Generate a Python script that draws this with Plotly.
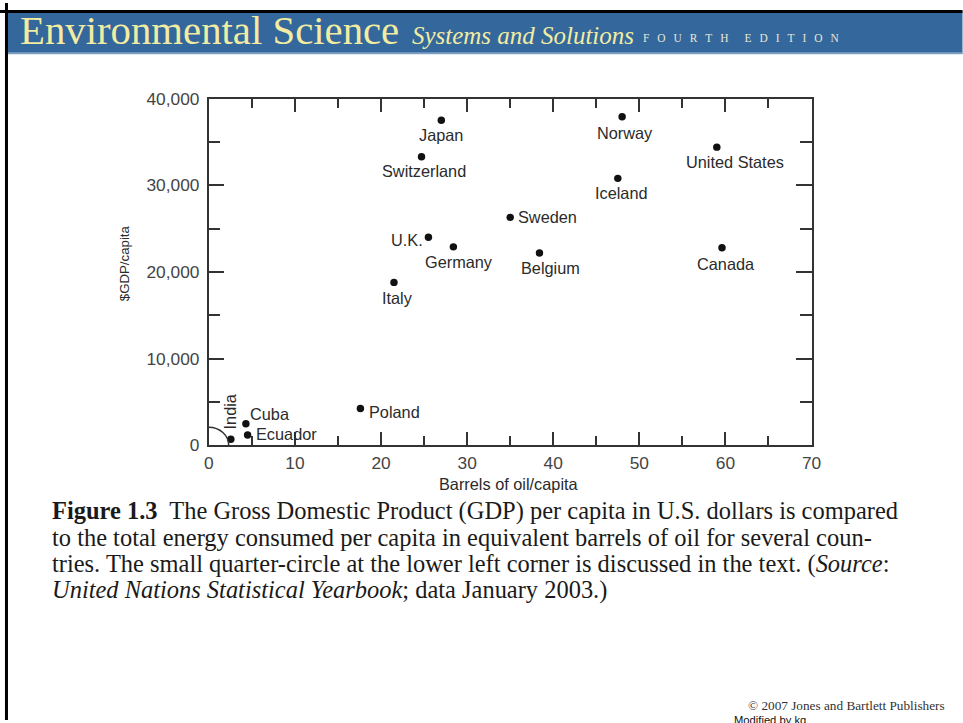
import plotly.graph_objects as go

# ---------------- data ----------------
countries = ["Japan", "Switzerland", "U.K.", "Germany", "Italy", "Sweden", "Belgium",
             "Norway", "Iceland", "United States", "Canada", "Poland", "Cuba", "Ecuador", "India"]
barrels = [27.0, 24.7, 25.5, 28.4, 21.5, 35.0, 38.4, 48.0, 47.5, 59.0, 59.6, 17.6, 4.3, 4.5, 2.55]
gdp = [37500, 33300, 24000, 22900, 18800, 26300, 22200, 37900, 30800, 34400, 22800, 4250, 2500, 1200, 720]

x_ticks = [0, 10, 20, 30, 40, 50, 60, 70]
y_ticks = [0, 10000, 20000, 30000, 40000]
y_tick_text = ["0", "10,000", "20,000", "30,000", "40,000"]

# ---------------- layout helpers ----------------
W, H = 963, 723
# observed mapping page -> photo: photo = S * page + B
SX, BX = 0.985, 6.0
SY, BY = 0.977, 8.0
K = 1 / ((SX + SY) / 2)   # size compensation


def px(xr):
    return ((xr - BX) / SX) / W


def py(yr):
    return 1 - ((yr - BY) / SY) / H


def fs(v):
    return round(v * K, 2)


# label placement: (xanchor, xshift, yshift, angle)
label_style = {
    "Japan": ("center", 0, -14, 0),
    "Switzerland": ("center", 2, -14, 0),
    "U.K.": ("right", -3, -3, 0),
    "Germany": ("center", 6, -15, 0),
    "Italy": ("center", 3, -15, 0),
    "Sweden": ("left", 6, 0, 0),
    "Belgium": ("center", 11, -15, 0),
    "Norway": ("center", 3, -16, 0),
    "Iceland": ("center", 4, -14, 0),
    "United States": ("center", 18, -15, 0),
    "Canada": ("center", 4, -16, 0),
    "Poland": ("left", 6, -3, 0),
    "Cuba": ("left", 2, 10, 0),
    "Ecuador": ("left", 6, 1, 0),
    "India": ("center", -1, 27, -90),
}
quarter_circle = (2.3, 2100)

SANS = "Liberation Sans, Arial, sans-serif"
SERIF = "Liberation Serif, Times New Roman, serif"
INK = "#2b2b2b"
AX = "#333333"

fig = go.Figure()
fig.add_trace(go.Scatter(
    x=barrels, y=gdp, mode="markers",
    marker=dict(size=fs(7.3), color="#111111"),
    hoverinfo="skip", showlegend=False, cliponaxis=False,
))

annotations = []
for c, xv, yv in zip(countries, barrels, gdp):
    xa, dx, dy, ang = label_style[c]
    annotations.append(dict(
        x=xv, y=yv, xref="x", yref="y", text=c, showarrow=False,
        xanchor=xa, yanchor="middle", xshift=dx * K, yshift=dy * K, textangle=ang,
        font=dict(family=SANS, size=fs(16), color=INK),
    ))

# axis titles
annotations.append(dict(x=px(510), y=py(484), xref="paper", yref="paper",
                        text="Barrels of oil/capita", showarrow=False,
                        xanchor="center", yanchor="middle",
                        font=dict(family=SANS, size=fs(16), color=INK)))
annotations.append(dict(x=px(125.5), y=py(262), xref="paper", yref="paper",
                        text="$GDP/capita", showarrow=False, textangle=-90,
                        xanchor="center", yanchor="middle",
                        font=dict(family=SANS, size=fs(13), color=INK)))

# header
annotations.append(dict(x=px(19), y=py(29), xref="paper", yref="paper",
                        text="Environmental Science", showarrow=False,
                        xanchor="left", yanchor="middle",
                        font=dict(family=SERIF, size=fs(40), color="#f1eca2")))
annotations.append(dict(x=px(411), y=py(33.5), xref="paper", yref="paper",
                        text="<i>Systems and Solutions</i>", showarrow=False,
                        xanchor="left", yanchor="middle",
                        font=dict(family=SERIF, size=fs(24.5), color="#f1eca2")))
gap = "\u2002\u2009"
annotations.append(dict(x=px(642), y=py(36), xref="paper", yref="paper",
                        text=gap.join("FOURTH") + gap + gap + gap.join("EDITION"),
                        showarrow=False, xanchor="left", yanchor="middle",
                        font=dict(family=SERIF, size=fs(11.2), color="#e6e6d6")))

# caption
caption_lines = [
    "<b>Figure 1.3</b>\u00a0 The Gross Domestic Product (GDP) per capita in U.S. dollars is compared",
    "to the total energy consumed per capita in equivalent barrels of oil for several coun-",
    "tries. The small quarter-circle at the lower left corner is discussed in the text. (<i>Source</i>:",
    "<i>United Nations Statistical Yearbook</i>; data January 2003.)",
]
caption_y = [511, 538, 564.5, 591]
for t, yy in zip(caption_lines, caption_y):
    annotations.append(dict(x=px(51), y=py(yy), xref="paper", yref="paper",
                            text=t, showarrow=False, xanchor="left", yanchor="middle",
                            font=dict(family=SERIF, size=fs(24), color="#1a1a1a")))

# footer
annotations.append(dict(x=px(949), y=py(707), xref="paper", yref="paper",
                        text="\u00a9 2007 Jones and Bartlett Publishers", showarrow=False,
                        xanchor="right", yanchor="middle",
                        font=dict(family=SERIF, size=fs(13), color="#333333")))
annotations.append(dict(x=px(733), y=py(713), xref="paper", yref="paper",
                        text="Modified by kg", showarrow=False,
                        xanchor="left", yanchor="top",
                        font=dict(family=SANS, size=fs(11), color="#111111")))

shapes = [
    # header band
    dict(type="rect", xref="paper", yref="paper", x0=px(8), x1=1.01, y0=py(9), y1=py(52),
         fillcolor="#34679b", line=dict(width=0), layer="below"),
    dict(type="line", xref="paper", yref="paper", x0=px(8), x1=1.01, y0=py(51.5), y1=py(51.5),
         line=dict(color="#7f9fc2", width=2)),
    # black frame
    dict(type="line", xref="paper", yref="paper", x0=-0.01, x1=1.01, y0=1 - 1.5 / H, y1=1 - 1.5 / H,
         line=dict(color="#000000", width=3)),
    dict(type="line", xref="paper", yref="paper", x0=1.5 / W, x1=1.5 / W, y0=1.01, y1=-0.01,
         line=dict(color="#000000", width=3)),
    # quarter circle
    dict(type="circle", xref="x", yref="y",
         x0=-quarter_circle[0], x1=quarter_circle[0],
         y0=-quarter_circle[1], y1=quarter_circle[1],
         line=dict(color=AX, width=1.5)),
]

fig.update_layout(
    width=W, height=H,
    margin=dict(l=0, r=0, t=0, b=0),
    paper_bgcolor="white", plot_bgcolor="white",
    annotations=annotations, shapes=shapes,
    xaxis=dict(
        domain=[px(210), px(813)], range=[0, 70],
        tickvals=x_ticks, ticks="inside", ticklen=fs(13), tickwidth=1.5, tickcolor=AX,
        minor=dict(ticks="inside", dtick=5, ticklen=fs(9), tickwidth=1.5, tickcolor=AX),
        showline=True, linewidth=2, linecolor=AX, mirror="ticks",
        showgrid=False, zeroline=False,
        tickfont=dict(family=SANS, size=fs(17), color="#444444"),
        ticklabelstandoff=1,
    ),
    yaxis=dict(
        domain=[py(445.5), py(97)], range=[0, 40000],
        tickvals=y_ticks, ticktext=y_tick_text, ticks="inside", ticklen=fs(15), tickwidth=1.5, tickcolor=AX,
        minor=dict(ticks="inside", dtick=5000, ticklen=fs(11), tickwidth=1.5, tickcolor=AX),
        showline=True, linewidth=2, linecolor=AX, mirror="ticks",
        showgrid=False, zeroline=False,
        tickfont=dict(family=SANS, size=fs(17), color="#444444"),
        ticklabelstandoff=4,
    ),
)

fig.write_html("out.html", config={"displayModeBar": False},
               post_script="document.body.style.margin='0';document.body.style.overflow='hidden';")
